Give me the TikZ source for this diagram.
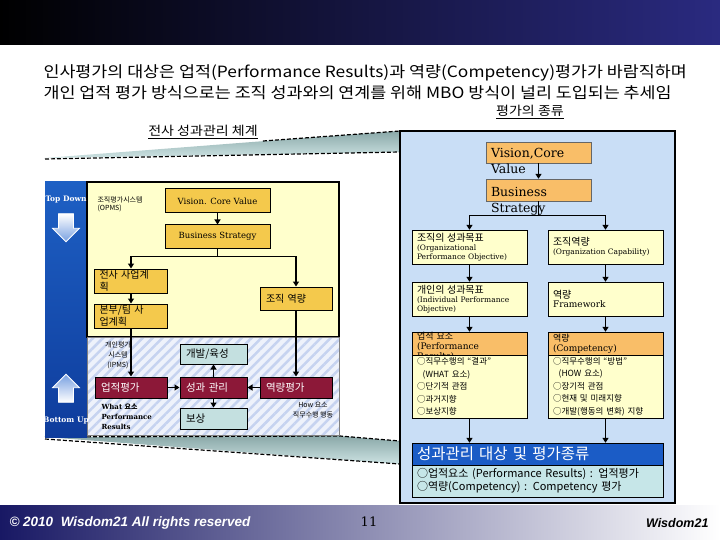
\documentclass[tikz,border=0pt]{standalone}
\usepackage{fontspec}
\usepackage{graphicx}
\setmainfont{DejaVu Serif}
\newfontfamily\kr{Noto Sans CJK KR}
\newfontfamily\ftsans{Liberation Sans}
\usetikzlibrary{arrows.meta,shapes.arrows,patterns.meta}

\definecolor{hdrnavy}{RGB}{42,42,128}
\definecolor{ftnavy}{RGB}{24,24,100}
\definecolor{ftmid}{RGB}{175,175,205}
\definecolor{panelyel}{RGB}{255,255,204}
\definecolor{goldbox}{RGB}{244,201,76}
\definecolor{wine}{RGB}{140,24,56}
\definecolor{tealbox}{RGB}{196,224,224}
\definecolor{colblue}{RGB}{30,96,196}
\definecolor{colblued}{RGB}{14,60,156}
\definecolor{hatchbg}{RGB}{238,242,251}
\definecolor{hatchln}{RGB}{198,211,240}
\definecolor{skybg}{RGB}{201,222,246}
\definecolor{orhdr}{RGB}{249,190,104}
\definecolor{deepblue}{RGB}{27,92,198}
\definecolor{mintbody}{RGB}{198,230,232}
\definecolor{funnelA}{RGB}{138,168,168}
\definecolor{funnelB}{RGB}{205,227,227}
\definecolor{arrblue}{RGB}{120,160,225}

\newcommand\widen[1]{\scalebox{1.12}[1]{#1}}

\tikzset{
  conn/.style={line width=1.3pt},
  arr/.style={conn,-{Triangle[length=5pt,width=6pt]}},
  fdash/.style={line width=1.2pt,dash pattern=on 4pt off 2pt},
  goldbx/.style={draw,line width=1pt,fill=goldbox,minimum width=105pt,minimum height=24pt,inner sep=0pt,font=\fontsize{8.5}{10}\selectfont},
  smallbx/.style={draw,line width=1pt,fill=goldbox,minimum width=73pt,minimum height=24pt,inner sep=0pt,text width=63pt,align=left,font=\kr\fontsize{10}{11.5}\selectfont},
  winebx/.style={draw,line width=1pt,fill=wine,text=white,minimum width=72pt,minimum height=21pt,inner sep=0pt,text width=60pt,align=left,font=\kr\fontsize{10.5}{12}\selectfont},
  tealbx/.style={draw,line width=1pt,fill=tealbox,minimum width=67pt,minimum height=20pt,inner sep=0pt,text width=55pt,align=left,font=\kr\fontsize{10.5}{12}\selectfont},
  obx/.style={draw=black!60,fill=orhdr,minimum width=105pt,minimum height=21pt,inner sep=0pt},
  ybx/.style={draw,fill=panelyel,minimum width=115pt,minimum height=34pt,inner sep=0pt,text width=105pt,align=left,font=\fontsize{7.5}{9}\selectfont},
  ohdr/.style={draw,fill=orhdr,minimum width=115pt,minimum height=23pt,inner sep=0pt,text width=105pt,align=left,font=\fontsize{9}{10}\selectfont},
  blkarr/.style={single arrow,draw=white,line width=0.8pt,inner sep=7pt,single arrow head extend=6pt,minimum height=28pt},
  sidetxt/.style={text=white,font=\fontsize{7.5}{9}\selectfont\bfseries}
}

\begin{document}
\begin{tikzpicture}[x=1pt,y=-1pt]
\useasboundingbox (0,0) rectangle (720,540);

% header and footer bands
\shade[left color=black,right color=hdrnavy] (0,0) rectangle (720,45);
\shade[left color=ftnavy,middle color=ftmid,right color=white] (0,505) rectangle (720,540);

% title
\node[anchor=west,align=left,font=\kr\fontsize{15.5}{21}\selectfont] (title) at (40,82)
  {\widen{인사평가의 대상은 업적(Performance Results)과 역량(Competency)평가가 바람직하며}\\
   \widen{개인 업적 평가 방식으로는 조직 성과와의 연계를 위해 MBO 방식이 널리 도입되는 추세임}};
\node[font=\kr\fontsize{12.5}{14}\selectfont] (kinds) at (530,112) {\underline{\widen{평가의 종류}}};
\node[font=\kr\fontsize{12.5}{14}\selectfont] (sysname) at (203,132) {\underline{\widen{전사 성과관리 체계}}};

% funnels
\shade[top color=funnelA,bottom color=funnelB] (45,158) -- (265,141) -- (400,131) -- (400,152) -- cycle;
\draw[fdash] (263,141) -- (400,131);
\draw[fdash] (45,159) -- (400,152);
\shade[top color=funnelA,bottom color=funnelB] (45,437) -- (340,436) -- (400,441) -- (400,464) -- cycle;
\draw[fdash] (45,437) -- (340,436) -- (400,441);
\draw[fdash] (45,439) -- (400,464);

% left panel
\shade[top color=colblue,bottom color=colblued] (45,182) rectangle (87,437);
\draw[line width=1.5pt,fill=panelyel] (87,182) rectangle (339,337);
\fill[hatchbg] (87,337) rectangle (339,435);
\fill[pattern={Lines[angle=45,distance=7pt,line width=2.5pt]},pattern color=hatchln] (87,337) rectangle (339,435);
\draw[black!50,thin] (87,337) rectangle (339,435);

\node[sidetxt] (tdown) at (66,200) {Top Down};
\node[blkarr,shape border rotate=270,top color=white,bottom color=arrblue] (darr) at (66,224) {};
\node[blkarr,shape border rotate=90,top color=arrblue,bottom color=white] (uarr) at (66,392) {};
\node[sidetxt] (bup) at (66,421) {Bottom Up};

\node[anchor=north west,align=left,font=\kr\fontsize{7}{8.5}\selectfont] (opms) at (94,193) {조직평가시스템\\(OPMS)};
\node[goldbx] (lvis) at (217.5,201) {Vision. Core Value};
\node[goldbx,minimum height=23pt] (lbiz) at (217.5,236.5) {Business Strategy};
\node[smallbx] (lplan) at (131,281) {전사 사업계\\획};
\node[smallbx] (ldiv) at (131,316) {본부/팀 사\\업계획};
\node[smallbx,minimum width=72pt,minimum height=23pt,text width=60pt] (lcap) at (296,298.5) {조직 역량};

\node[align=center,font=\kr\fontsize{7}{10}\selectfont] (ipms) at (118,355) {개인평가\\시스템\\(IPMS)};
\node[tealbx] (ldev) at (213.5,354) {개발/육성};
\node[winebx] (lres) at (131,387.5) {업적평가};
\node[winebx,minimum width=67pt,text width=55pt] (lmgt) at (213.5,387.5) {성과 관리};
\node[winebx] (lcomp) at (296,387.5) {역량평가};
\node[tealbx,minimum height=21pt] (lrew) at (213.5,418.5) {보상};
\node[anchor=north west,align=left,font=\fontsize{7}{10}\selectfont\bfseries] (what) at (98,400) {What {\kr 요소}\\Performance\\Results};
\node[align=center,font=\kr\fontsize{7}{10}\selectfont] (how) at (313,410) {How 요소\\직무수행 행동};

\draw[arr] (lvis) -- (lbiz);
\draw[conn] (lbiz.south) -- ++(0,8) coordinate (lsplit);
\draw[arr] (lsplit) -| (lplan.north);
\draw[arr] (lsplit) -| (lcap.north);
\draw[arr] (lplan) -- (ldiv);
\draw[arr] (ldiv) -- (lres);
\draw[arr] (lcap) -- (lcomp);
\draw[arr] (lres) -- (lmgt);
\draw[arr] (lcomp) -- (lmgt);
\draw[arr] (lmgt) -- (ldev);
\draw[arr] (lmgt) -- (lrew);

% right panel
\draw[line width=1.5pt,fill=skybg] (400,131) rectangle (675,503);

\node[obx] (rvis) at (538.5,152.5) {\smash{\raisebox{-5pt}{\parbox[t]{95pt}{\fontsize{12.5}{16}\selectfont Vision,Core\\Value}}}};
\node[obx,minimum height=22pt] (rbiz) at (538.5,190) {\smash{\raisebox{-6pt}{\parbox[t]{95pt}{\fontsize{12.5}{17}\selectfont Business\\Strategy}}}};

\node[ybx] (rl1) at (469.5,247) {{\kr\fontsize{10}{12}\selectfont 조직의 성과목표}\\(Organizational\\Performance Objective)};
\node[ybx] (rl2) at (469.5,299) {{\kr\fontsize{10}{12}\selectfont 개인의 성과목표}\\(Individual Performance\\Objective)};
\node[ohdr] (rl3h) at (469.5,343.5) {\smash{\raisebox{4.5pt}{\parbox[t]{105pt}{{\kr 업적 요소}\\(Performance\\Results)}}}};
\node[ybx,minimum height=63pt,font=\kr\fontsize{8.5}{12.5}\selectfont] (rl3b) at (469.5,386.5)
  {○직무수행의 “결과”\\\ \ (WHAT 요소)\\○단기적 관점\\○과거지향\\○보상지향};

\node[ybx] (rr1) at (605.5,247) {{\kr\fontsize{10}{12}\selectfont 조직역량}\\(Organization Capability)};
\node[ybx] (rr2) at (605.5,299) {{\kr\fontsize{10}{12}\selectfont 역량}\\{\fontsize{9}{11}\selectfont Framework}};
\node[ohdr] (rr3h) at (605.5,343.5) {{\kr 역량}\\(Competency)};
\node[ybx,minimum height=63pt,font=\kr\fontsize{8.5}{12.5}\selectfont] (rr3b) at (605.5,386.5)
  {○직무수행의 “방법”\\\ \ (HOW 요소)\\○장기적 관점\\○현재 및 미래지향\\○개발(행동의 변화) 지향};

\node[draw,fill=deepblue,text=white,minimum width=251pt,minimum height=22pt,inner sep=0pt,text width=241pt,align=left,font=\kr\fontsize{15.5}{17}\selectfont] (rbh) at (537.5,454) {성과관리 대상 및 평가종류};
\node[draw,fill=mintbody,minimum width=251pt,minimum height=32pt,inner sep=0pt,text width=241pt,align=left,font=\kr\fontsize{11}{13}\selectfont] (rbb) at (537.5,481)
  {○업적요소 (Performance Results) : 업적평가\\○역량(Competency) : Competency 평가};

\draw[arr] (rvis) -- (rbiz);
\draw[conn] (rbiz.south) -- ++(0,14) coordinate (rsplit);
\draw[arr] (rsplit) -| (rl1.north);
\draw[arr] (rsplit) -| (rr1.north);
\draw[arr] (rl1) -- (rl2);
\draw[arr] (rl2) -- (rl3h);
\draw[arr] (rr1) -- (rr2);
\draw[arr] (rr2) -- (rr3h);
\draw[arr] (rl3b.south) -- (rl3b.south |- rbh.north);
\draw[arr] (rr3b.south) -- (rr3b.south |- rbh.north);

% footer texts
\node[anchor=west,text=white,font=\ftsans\bfseries\itshape\fontsize{13.5}{15}\selectfont] (copy) at (6,523) {© 2010\ \ Wisdom21 All rights reserved};
\node[font=\fontsize{13}{15}\selectfont] (pgno) at (369,522) {11};
\node[anchor=east,font=\ftsans\bfseries\itshape\fontsize{12.5}{14}\selectfont] (brand) at (712,523) {Wisdom21};
\end{tikzpicture}
\end{document}
